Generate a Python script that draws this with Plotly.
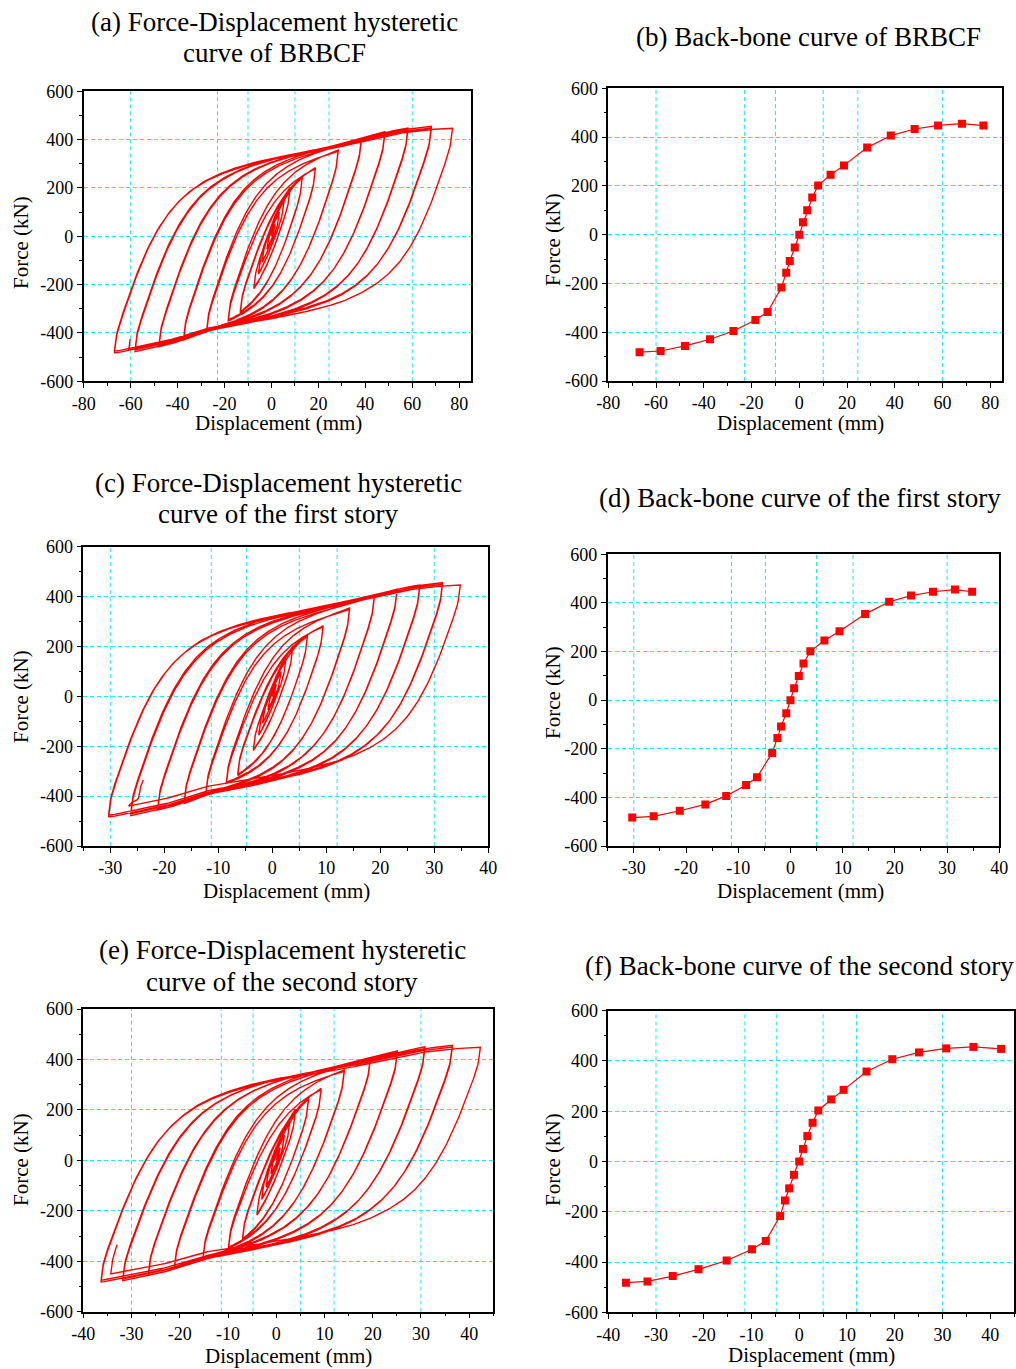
import numpy as np
import plotly.graph_objects as go

# ---------------- data ----------------
# back-bone curves (displacement mm, force kN)
bb_a_x = [-66.9, -58.1, -47.9, -37.4, -27.6, -18.4, -13.3, -7.5, -5.5, -4.0, -1.9, 0.0,
          1.5, 3.3, 5.4, 7.9, 13.1, 18.7, 28.4, 38.3, 48.3, 58.1, 68.1, 77.1]
bb_a_F = [-482, -477, -456, -429, -395, -350, -317, -217, -156, -108, -53, 0,
          51, 100, 152, 202, 246, 284, 357, 406, 433, 448, 455, 447]
bb_c_x = [-30.3, -26.2, -21.2, -16.3, -12.3, -8.5, -6.4, -3.5, -2.5, -1.8, -0.8, 0.0,
          0.7, 1.6, 2.5, 3.8, 6.5, 9.4, 14.3, 18.9, 23.1, 27.3, 31.5, 34.8]
bb_c_F = [-483, -478, -455, -429, -394, -349, -317, -217, -156, -108, -54, 0,
          49, 99, 151, 201, 245, 283, 354, 405, 430, 446, 455, 446]
bb_e_x = [-36.3, -31.8, -26.5, -21.1, -15.2, -9.9, -7.0, -4.0, -3.0, -2.1, -1.1, 0.0,
          0.8, 1.7, 2.8, 4.0, 6.7, 9.3, 14.1, 19.5, 25.1, 30.8, 36.5, 42.3]
bb_e_F = [-482, -477, -456, -429, -394, -349, -316, -217, -155, -107, -53, 0,
          50, 101, 154, 203, 247, 285, 358, 407, 434, 450, 456, 448]

# loading / unloading envelopes of the hysteretic loops (BRBCF displacement units)
env_up_x = [-120, -90, -70, -50, -30, -10, 10, 25, 40, 55, 65, 75, 90, 120]
env_up_F = [170, 215, 245, 280, 315, 340, 362, 380, 410, 440, 452, 457, 460, 460]
env_lo_x = [-120, -90, -75, -65, -55, -40, -25, -10, 10, 30, 50, 70, 90, 120]
env_lo_F = [-490, -490, -487, -478, -460, -430, -385, -367, -342, -317, -282, -245, -210, -165]

# end of the test record (last reversals and final point) for each hysteretic plot
end_a = [(-60.8, -470), (-60.2, -425)]
end_c = [(-26.6, -440), (-24.8, -412), (-23.9, -335)]
end_e = [(-34.3, -450), (-33.0, -335)]

cycles_per_level = 2
cycle_force_ratio = [1.0, 0.985]

# tick labels
ytick_vals = [-600, -400, -200, 0, 200, 400, 600]
ytick_text = ["-600", "-400", "-200", "0", "200", "400", "600"]
xtick_a = [-80, -60, -40, -20, 0, 20, 40, 60, 80]
xtick_c = [-30, -20, -10, 0, 10, 20, 30, 40]
xtick_e = [-40, -30, -20, -10, 0, 10, 20, 30, 40]

# grid positions (vertical dashed lines) per panel
vgrid_a = [-60, -23, -10, 10, 24.5, 60]
vgrid_c = [-30, -11.3, -4.8, 5, 12, 30]
vgrid_e = [-30, -11.4, -4.8, 5, 12, 30]

# loop-shape constants (BRBCF units)
K_el = 30.0     # kN/mm
V_jump = 50.0   # kN
lam1 = 0.5      # mm
R_sh = 2.5


def branch(xr, Fr, xt, Ft, sc, n=170):
    up = xt > xr
    s_tot = abs(xt - xr)
    s = s_tot * np.linspace(0, 1, n) ** 1.5
    x = xr + s if up else xr - s
    xa = x / sc
    sa = s / sc
    de = V_jump * (1 - np.exp(-sa / lam1)) + K_el * sa
    if up:
        denv = np.interp(xa, env_up_x, env_up_F) - Fr
    else:
        denv = Fr - np.interp(xa, env_lo_x, env_lo_F)
    denv = np.maximum(denv, 1.0)
    de = np.maximum(de, 1e-9)
    d = (de ** -R_sh + denv ** -R_sh) ** (-1.0 / R_sh)
    d[0] = 0.0
    k = abs(Ft - Fr) / d[-1]
    F = Fr + k * d if up else Fr - k * d
    return x, F


def hysteresis(bx, bF, ends, sc):
    neg = [(bx[10 - i], bF[10 - i]) for i in range(11)]
    pos = [(bx[12 + i], bF[12 + i]) for i in range(12)]
    seq = [(0.0, 0.0)]
    for i in range(11):
        for r in range(cycles_per_level):
            f = cycle_force_ratio[r]
            seq.append((pos[i][0], pos[i][1] * f))
            seq.append((neg[i][0], neg[i][1] * f))
    seq.append(pos[11])
    seq.extend(ends)
    xs, Fs = [], []
    for (x0, F0), (x1, F1) in zip(seq[:-1], seq[1:]):
        x, F = branch(x0, F0, x1, F1, sc)
        xs.append(x)
        Fs.append(F)
    return np.concatenate(xs), np.concatenate(Fs)


sc_a = 1.0
sc_c = bb_c_x[-1] / bb_a_x[-1]
sc_e = bb_e_x[-1] / bb_a_x[-1]
hx_a, hF_a = hysteresis(bb_a_x, bb_a_F, end_a, sc_a)
hx_c, hF_c = hysteresis(bb_c_x, bb_c_F, end_c, sc_c)
hx_e, hF_e = hysteresis(bb_e_x, bb_e_F, end_e, sc_e)

W, H = 1016, 1369
FONT = "Times New Roman, Liberation Serif, serif"
RED = "#ff0000"
CYAN = "#1ee8f2"


def px2x(px):
    return px / W


def py2y(py):
    return 1 - py / H


# plot areas in page pixels: (x0, x1, y_top, y_bottom)
areas = [
    (83.7, 471.0, 91.3, 381.3),
    (608.3, 1002.3, 88.3, 381.0),
    (83.3, 488.3, 546.7, 846.0),
    (607.7, 999.3, 554.3, 846.0),
    (83.3, 493.3, 1009.0, 1311.7),
    (608.3, 1014.0, 1010.7, 1312.3),
]
xranges = [[-80, 85], [-80, 85], [-35, 40], [-35, 40], [-40, 45], [-40, 45]]
xticks = [xtick_a, xtick_a, xtick_c, xtick_c, xtick_e, xtick_e]
xminor = [10, 10, 5, 5, 5, 5]
vgrids = [vgrid_a, vgrid_a, vgrid_c, vgrid_c, vgrid_e, vgrid_e]

fig = go.Figure()

series = [
    ("hyst", hx_a, hF_a), ("bb", bb_a_x, bb_a_F),
    ("hyst", hx_c, hF_c), ("bb", bb_c_x, bb_c_F),
    ("hyst", hx_e, hF_e), ("bb", bb_e_x, bb_e_F),
]
for i, (kind, xs, ys) in enumerate(series):
    ax = "" if i == 0 else str(i + 1)
    if kind == "hyst":
        fig.add_trace(go.Scatter(x=xs, y=ys, mode="lines",
                                 line=dict(color=RED, width=1.4),
                                 xaxis="x" + ax, yaxis="y" + ax, showlegend=False))
    else:
        fig.add_trace(go.Scatter(x=xs, y=ys, mode="lines+markers",
                                 line=dict(color=RED, width=1.2),
                                 marker=dict(symbol="square", size=8, color=RED),
                                 xaxis="x" + ax, yaxis="y" + ax, showlegend=False))

layout = dict(width=W, height=H, margin=dict(l=0, r=0, t=0, b=0, autoexpand=False),
              paper_bgcolor="white", plot_bgcolor="white",
              font=dict(family=FONT, size=18, color="black"))
shapes = []
for i, (x0, x1, yt, yb) in enumerate(areas):
    ax = "" if i == 0 else str(i + 1)
    xdom = [px2x(x0), px2x(x1)]
    ydom = [py2y(yb), py2y(yt)]
    layout["xaxis" + ax] = dict(
        domain=xdom, range=xranges[i], anchor="y" + ax,
        tickmode="array", tickvals=xticks[i], ticktext=[str(v) for v in xticks[i]],
        showline=True, linecolor="black", linewidth=1.5, mirror=True,
        ticks="outside", ticklen=5, tickwidth=1, tickcolor="black",
        minor=dict(dtick=xminor[i], tick0=0, ticks="outside", ticklen=3, tickcolor="black"),
        showgrid=False, zeroline=False, tickfont=dict(family=FONT, size=18))
    layout["yaxis" + ax] = dict(
        domain=ydom, range=[-600, 600], anchor="x" + ax,
        tickmode="array", tickvals=ytick_vals, ticktext=ytick_text,
        showline=True, linecolor="black", linewidth=1.5, mirror=True,
        ticks="outside", ticklen=5, tickwidth=1, tickcolor="black",
        minor=dict(dtick=100, tick0=0, ticks="outside", ticklen=3, tickcolor="black"),
        showgrid=True, gridcolor=CYAN, gridwidth=1, griddash="4px,3px",
        zeroline=False, tickfont=dict(family=FONT, size=18))
    for gx in vgrids[i]:
        shapes.append(dict(type="line", xref="x" + ax, yref="y" + ax + " domain",
                           x0=gx, x1=gx, y0=0, y1=1, layer="below",
                           line=dict(color=CYAN, width=1, dash="4px,3px")))
layout["shapes"] = shapes

ann = []
titles = [
    ("(a) Force-Displacement hysteretic", 274.5, 22),
    ("curve of BRBCF", 274.8, 53),
    ("(b) Back-bone curve of BRBCF", 808.5, 37),
    ("(c) Force-Displacement hysteretic", 278.3, 483),
    ("curve of the first story", 277.5, 514),
    ("(d) Back-bone curve of the first story", 800, 498),
    ("(e) Force-Displacement hysteretic", 282.2, 950),
    ("curve of the second story", 281.7, 982),
    ("(f) Back-bone curve of the second story", 799, 966),
]
for t, px, py in titles:
    ann.append(dict(text=t, x=px2x(px), y=py2y(py), xref="paper", yref="paper",
                    xanchor="center", yanchor="middle", showarrow=False,
                    font=dict(family=FONT, size=27, color="black")))
xt_pos = [(278, 423), (800, 423), (286, 891), (800, 891), (288, 1356), (811, 1355)]
for px, py in xt_pos:
    ann.append(dict(text="Displacement (mm)", x=px2x(px), y=py2y(py), xref="paper",
                    yref="paper", xanchor="center", yanchor="middle", showarrow=False,
                    font=dict(family=FONT, size=21, color="black")))
yt_pos = [(21, 243), (553, 240), (21, 697), (553, 693), (21, 1160), (553, 1160)]
for px, py in yt_pos:
    ann.append(dict(text="Force (kN)", x=px2x(px), y=py2y(py), xref="paper",
                    yref="paper", xanchor="center", yanchor="middle", showarrow=False,
                    textangle=-90, font=dict(family=FONT, size=21, color="black")))
layout["annotations"] = ann

fig.update_layout(**layout)
fig.write_html("out.html",
               post_script="document.body.style.margin='0px';"
                           "document.body.style.overflow='hidden';")
